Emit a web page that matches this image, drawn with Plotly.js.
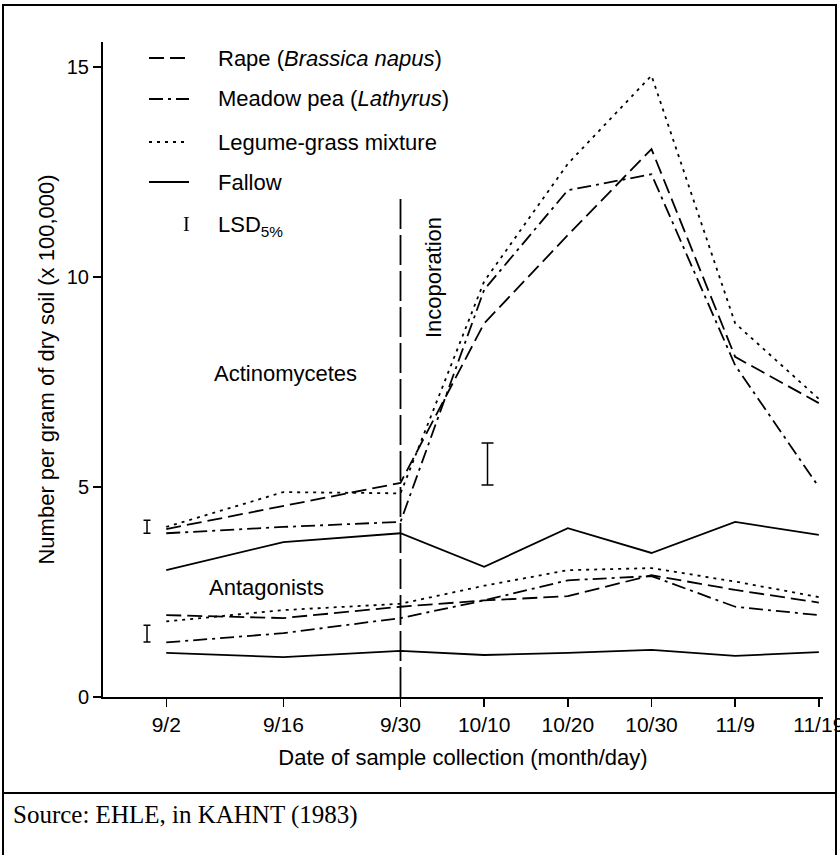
<!DOCTYPE html>
<html>
<head>
<meta charset="utf-8">
<script src="https://cdn.plot.ly/plotly-3.0.1.min.js"></script>
<style>html,body{margin:0;padding:0;background:#fff;overflow:hidden;} #chart{width:840px;height:855px;}</style>
</head>
<body>
<div id="chart"></div>
<script>
// ---- data (days counted from 9/2) ----
const days = [0, 14, 28, 38, 48, 58, 68, 78];
const dateLabels = ['9/2', '9/16', '9/30', '10/10', '10/20', '10/30', '11/9', '11/19'];

// Actinomycetes
const actRape    = [4.00, 4.55, 5.10, 8.90, 11.00, 13.05, 8.10, 7.00];
const actMeadow  = [3.90, 4.05, 4.17, 9.70, 12.07, 12.45, 7.90, 5.00];
const actLegume  = [4.05, 4.88, 4.85, 9.90, 12.70, 14.80, 8.90, 7.10];
const actFallow  = [3.02, 3.69, 3.90, 3.10, 4.02, 3.43, 4.17, 3.86];

// Antagonists
const antRape    = [1.95, 1.88, 2.15, 2.30, 2.40, 2.90, 2.55, 2.25];
const antMeadow  = [1.30, 1.52, 1.88, 2.30, 2.78, 2.88, 2.15, 1.95];
const antLegume  = [1.80, 2.07, 2.22, 2.65, 3.02, 3.07, 2.75, 2.38];
const antFallow  = [1.05, 0.95, 1.10, 1.00, 1.05, 1.12, 0.98, 1.07];

// LSD 5% bars
const lsdSmallX    = [-2.3, -2.3];
const lsdSmallLow  = [3.90, 1.31];
const lsdSmallHigh = [4.21, 1.71];
const lsdBigX    = [38.4];
const lsdBigLow  = [5.05];
const lsdBigHigh = [6.05];

// Incorporation date line
const incX = [28, 28];
const incY = [0, 11.9];

const yTicks = [0, 5, 10, 15];

// ---- styles ----
const BLACK = '#000';
const W = 1.8;
const dashRape = '15px,6px';
const dashMeadow = '14px,5px,3px,5px';
const dashLegume = '3px,5px';
const FONT = 'Liberation Sans, Arial, Helvetica, sans-serif';
const SERIF = 'Liberation Serif, Times New Roman, serif';

function line(x, y, dash) {
  return {x: x, y: y, type: 'scatter', mode: 'lines', showlegend: false, hoverinfo: 'skip',
          line: {color: BLACK, width: W, dash: dash}};
}
function lsdTrace(x, lo, hi, capw) {
  const mid = lo.map((v, i) => (v + hi[i]) / 2);
  const half = lo.map((v, i) => (hi[i] - v) / 2);
  return {x: x, y: mid, type: 'scatter', mode: 'markers', showlegend: false, hoverinfo: 'skip',
          marker: {size: 1, opacity: 0},
          error_y: {type: 'data', array: half, symmetric: true, color: BLACK, thickness: 1.5, width: capw}};
}

const traces = [
  line(days, actRape, dashRape),
  line(days, actMeadow, dashMeadow),
  line(days, actLegume, dashLegume),
  line(days, actFallow, 'solid'),
  line(days, antRape, dashRape),
  line(days, antMeadow, dashMeadow),
  line(days, antLegume, dashLegume),
  line(days, antFallow, 'solid'),
  line(incX, incY, '30px,6px'),
  lsdTrace(lsdSmallX, lsdSmallLow, lsdSmallHigh, 3.5),
  lsdTrace(lsdBigX, lsdBigLow, lsdBigHigh, 6)
];

// plot area in pixels: x 103..823, y 42..697
const L = 103, R = 823, T = 42, B = 697;
const px = v => (v - L) / (R - L);
const py = v => (B - v) / (B - T);

const legendItems = [
  {dash: dashRape,   y: 58,  text: 'Rape (<i>Brassica napus</i>)'},
  {dash: dashMeadow, y: 99,  text: 'Meadow pea (<i>Lathyrus</i>)'},
  {dash: dashLegume, y: 142, text: 'Legume-grass mixture'},
  {dash: 'solid',    y: 182, text: 'Fallow'}
];

const shapes = [];
const annotations = [];
legendItems.forEach(it => {
  shapes.push({type: 'line', xref: 'paper', yref: 'paper', x0: px(149), x1: px(189), y0: py(it.y), y1: py(it.y),
               line: {color: BLACK, width: W, dash: it.dash}});
  annotations.push({xref: 'paper', yref: 'paper', x: px(216), y: py(it.y), xanchor: 'left', yanchor: 'middle',
                    text: it.text, showarrow: false, font: {family: FONT, size: 22, color: BLACK}});
});
annotations.push({xref: 'paper', yref: 'paper', x: px(186), y: py(224), xanchor: 'center', yanchor: 'middle',
                  text: 'I', showarrow: false, font: {family: SERIF, size: 20, color: BLACK}});
annotations.push({xref: 'paper', yref: 'paper', x: px(216), y: py(226), xanchor: 'left', yanchor: 'middle',
                  text: 'LSD<sub>5%</sub>', showarrow: false, font: {family: FONT, size: 22, color: BLACK}});
annotations.push({xref: 'paper', yref: 'paper', x: px(212), y: py(373), xanchor: 'left', yanchor: 'middle',
                  text: 'Actinomycetes', showarrow: false, font: {family: FONT, size: 22, color: BLACK}});
annotations.push({xref: 'paper', yref: 'paper', x: px(207), y: py(587), xanchor: 'left', yanchor: 'middle',
                  text: 'Antagonists', showarrow: false, font: {family: FONT, size: 22, color: BLACK}});
annotations.push({xref: 'paper', yref: 'paper', x: px(433), y: py(278), xanchor: 'center', yanchor: 'middle',
                  text: 'Incoporation', textangle: -90, showarrow: false, font: {family: FONT, size: 22, color: BLACK}});
annotations.push({xref: 'paper', yref: 'paper', x: px(11), y: py(815), xanchor: 'left', yanchor: 'middle',
                  text: 'Source: EHLE, in KAHNT (1983)', showarrow: false, font: {family: SERIF, size: 25, color: BLACK}});

// frame and separator
shapes.push({type: 'rect', xref: 'paper', yref: 'paper', x0: px(3), x1: px(836), y0: py(5), y1: py(860),
             line: {color: BLACK, width: 2}, fillcolor: 'rgba(0,0,0,0)', layer: 'below'});
shapes.push({type: 'line', xref: 'paper', yref: 'paper', x0: px(3), x1: px(836), y0: py(793), y1: py(793),
             line: {color: BLACK, width: 2}});

const layout = {
  width: 840, height: 855,
  margin: {l: L, r: 840 - R, t: T, b: 855 - B, pad: 0},
  paper_bgcolor: '#fff', plot_bgcolor: '#fff',
  showlegend: false,
  font: {family: FONT, size: 21, color: BLACK},
  xaxis: {
    range: [-7.56, 78.5], tickvals: days, ticktext: dateLabels, ticklabeloverflow: 'allow',
    showline: true, linecolor: BLACK, linewidth: 2, ticks: 'outside', ticklen: 8, tickwidth: 1.5, tickcolor: BLACK,
    showgrid: false, zeroline: false, tickfont: {family: FONT, size: 21, color: BLACK},
    title: {text: 'Date of sample collection (month/day)', font: {family: FONT, size: 22, color: BLACK}, standoff: 14},
    automargin: false, fixedrange: true
  },
  yaxis: {
    range: [0, 15.6], tickvals: yTicks, ticklabeloverflow: 'allow',
    showline: true, linecolor: BLACK, linewidth: 2, ticks: 'outside', ticklen: 8, tickwidth: 1.5, tickcolor: BLACK,
    showgrid: false, zeroline: false, tickfont: {family: FONT, size: 20, color: BLACK},
    title: {text: 'Number per gram of dry soil (x 100,000)', font: {family: FONT, size: 22, color: BLACK}, standoff: 6},
    automargin: false, fixedrange: true
  },
  shapes: shapes,
  annotations: annotations
};

Plotly.newPlot('chart', traces, layout, {displayModeBar: false, staticPlot: true});
</script>
</body>
</html>
